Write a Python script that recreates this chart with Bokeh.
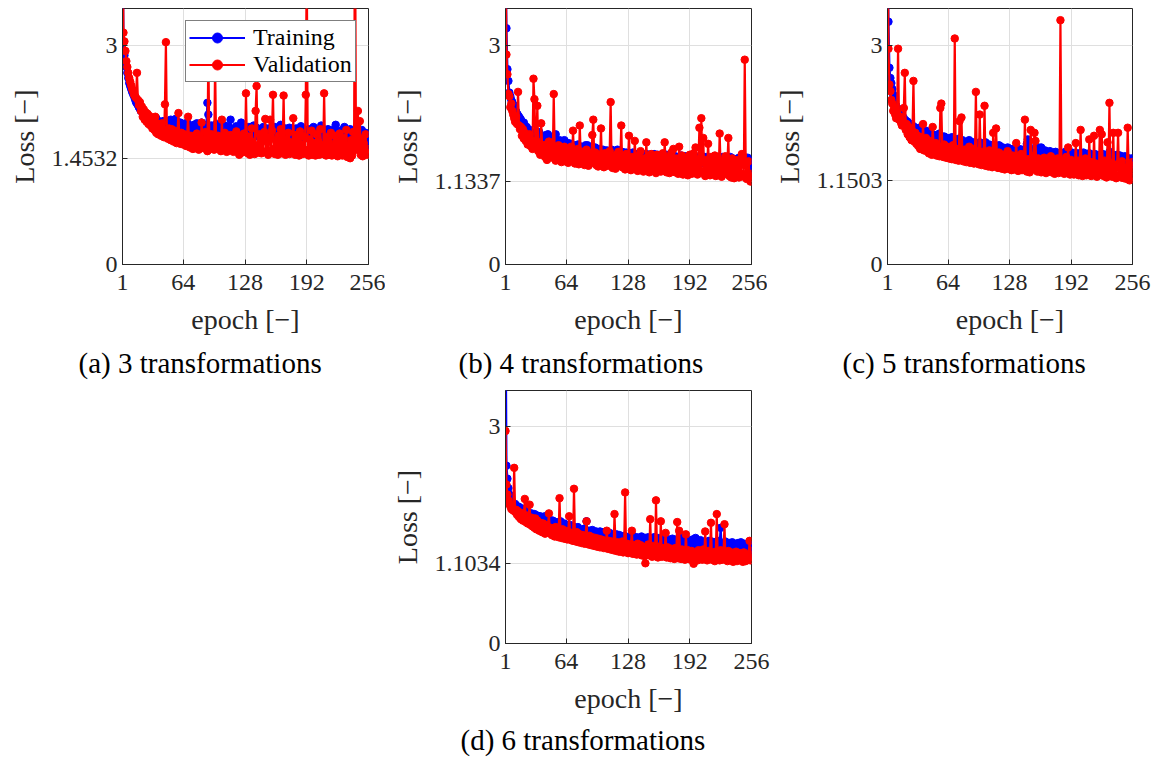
from bokeh.plotting import figure
from bokeh.models import Range1d, FixedTicker, Title, Legend, LegendItem, Spacer
from bokeh.layouts import row, column
from bokeh.embed import file_html
from bokeh.resources import INLINE

X_TICKS = [1, 64, 128, 192, 256]
Y_MAX = 3.5

TRAIN_A = [
    4.60, 3.05, 2.86, 2.76, 2.70, 2.62, 2.55, 2.48, 2.44, 2.40, 2.36, 2.33, 2.30, 2.26, 2.22, 2.20,
    2.18, 2.15, 2.13, 2.10, 2.12, 2.08, 2.06, 2.05, 2.07, 2.03, 2.02, 2.00, 2.01, 1.99, 1.98, 1.97,
    1.99, 1.94, 1.97, 2.00, 1.92, 1.96, 1.90, 1.95, 1.93, 1.88, 1.96, 1.91, 1.87, 1.94, 1.89, 1.95,
    1.86, 1.92, 1.98, 1.88, 1.84, 1.93, 1.87, 1.99, 1.85, 1.91, 1.83, 1.89, 1.94, 1.82, 1.88, 1.85,
    1.92, 1.83, 1.87, 1.94, 1.81, 1.86, 1.90, 1.80, 1.88, 1.84, 1.91, 1.79, 1.86, 1.93, 1.82, 1.87,
    1.80, 1.89, 1.94, 1.83, 1.78, 1.88, 1.84, 1.91, 2.21, 2.05, 1.85, 1.79, 1.90, 1.82, 1.77, 1.86,
    1.81, 1.92, 1.78, 1.85, 1.89, 1.80, 1.76, 1.87, 1.83, 1.79, 1.90, 1.77, 1.84, 1.88, 1.78, 1.82,
    1.98, 1.80, 1.76, 1.86, 1.81, 1.77, 1.89, 1.79, 1.75, 1.84, 1.80, 1.94, 1.77, 1.83, 1.87, 1.76,
    1.81, 1.85, 1.75, 1.88, 1.79, 1.74, 1.86, 1.80, 1.90, 1.76, 1.82, 1.87, 1.75, 1.79, 1.84, 1.77,
    1.83, 1.74, 1.88, 1.78, 1.84, 1.73, 1.81, 1.86, 1.76, 1.80, 1.74, 1.85, 1.79, 1.75, 1.88, 1.78,
    1.74, 1.82, 1.77, 1.85, 1.91, 1.76, 1.72, 1.83, 1.78, 1.86, 1.74, 1.80, 1.75, 1.87, 1.79, 1.73,
    1.84, 1.77, 1.81, 1.73, 1.86, 1.78, 1.74, 1.83, 1.79, 1.89, 1.75, 1.81, 1.72, 1.84, 1.77, 1.80,
    1.74, 1.85, 1.78, 1.72, 1.83, 1.76, 1.88, 1.80, 1.73, 1.82, 1.77, 1.71, 1.84, 1.78, 1.90, 1.74,
    1.79, 1.83, 1.72, 1.80, 1.76, 1.85, 1.73, 1.81, 1.77, 1.84, 1.71, 1.79, 1.83, 1.91, 1.76, 1.72,
    1.82, 1.75, 1.80, 1.71, 1.84, 1.77, 1.88, 1.74, 1.79, 1.83, 1.70, 1.78, 1.85, 1.73, 1.80, 1.76,
    1.71, 1.82, 1.77, 1.86, 1.73, 1.79, 1.70, 1.81, 1.84, 1.72, 1.78, 1.74, 1.80, 1.76, 1.70, 1.63,
]
VAL_A = [
    4.80, 3.17, 3.05, 2.92, 2.78, 2.70, 2.62, 2.55, 2.50, 2.45, 2.40, 2.37, 2.32, 2.30, 2.28, 2.62,
    2.25, 2.18, 2.22, 2.10, 2.16, 2.02, 2.12, 1.98, 2.08, 1.95, 2.06, 1.92, 2.03, 1.90, 2.00, 1.86,
    1.97, 1.84, 2.02, 1.80, 1.93, 1.78, 1.90, 1.87, 1.76, 1.93, 1.82, 1.74, 2.19, 3.04, 1.84, 1.72,
    1.86, 1.76, 1.70, 1.85, 1.74, 1.68, 1.83, 1.79, 1.66, 1.81, 2.07, 1.71, 1.65, 1.80, 1.73, 1.64,
    1.78, 1.69, 1.62, 1.77, 2.02, 1.67, 1.60, 1.76, 1.70, 1.58, 1.75, 1.66, 1.61, 1.79, 1.63, 1.57,
    1.73, 1.65, 1.94, 1.72, 1.59, 1.66, 1.81, 1.62, 1.55, 2.90, 1.69, 1.58, 1.78, 1.63, 1.72, 1.57,
    2.75, 1.70, 1.59, 1.76, 1.62, 1.69, 1.55, 1.98, 1.67, 1.58, 1.80, 1.61, 1.54, 1.73, 1.64, 1.56,
    1.77, 1.60, 1.69, 1.54, 1.74, 1.60, 1.82, 1.57, 1.68, 1.50, 1.64, 1.76, 1.53, 1.62, 1.79, 1.55,
    2.34, 1.63, 1.52, 1.75, 1.50, 1.69, 1.86, 1.56, 1.64, 1.51, 2.10, 2.44, 1.62, 1.53, 1.78, 1.66,
    1.52, 1.71, 1.54, 1.81, 1.99, 1.55, 1.68, 1.50, 1.74, 1.98, 1.56, 1.83, 2.32, 1.58, 1.51, 1.70,
    1.57, 1.50, 1.76, 1.54, 1.85, 1.52, 1.65, 2.31, 1.58, 1.50, 1.72, 1.55, 1.80, 1.51, 1.67, 1.59,
    1.53, 2.00, 1.62, 1.50, 1.77, 1.55, 1.69, 1.49, 1.82, 1.56, 1.64, 1.51, 1.75, 1.53, 2.32, 4.20,
    1.57, 1.49, 1.71, 1.55, 1.83, 1.50, 1.66, 1.56, 1.49, 1.78, 1.55, 1.68, 1.50, 1.85, 1.54, 1.63,
    1.51, 2.34, 1.58, 1.49, 1.74, 1.50, 1.67, 1.54, 1.80, 1.49, 1.62, 1.51, 1.76, 1.55, 1.69, 1.48,
    1.56, 1.79, 1.50, 1.66, 1.49, 1.73, 1.60, 1.50, 1.84, 1.47, 1.63, 1.52, 1.4532, 1.70, 1.49, 1.81,
    1.56, 5.00, 1.62, 1.70, 2.10, 1.57, 1.96, 1.50, 1.72, 1.48, 1.66, 1.54, 1.78, 1.50, 1.58, 1.52,
]

TRAIN_B = [
    4.20, 3.23, 2.67, 2.51, 2.35, 2.30, 2.25, 2.22, 2.18, 2.17, 2.12, 2.09, 2.06, 2.04, 2.02, 2.00,
    1.98, 1.95, 1.92, 1.94, 1.90, 1.85, 1.88, 1.83, 1.81, 1.84, 1.79, 1.80, 1.77, 1.78, 1.76, 1.75,
    1.79, 1.72, 1.76, 1.81, 1.70, 1.75, 1.68, 1.74, 1.71, 1.66, 1.77, 1.73, 1.78, 1.69, 1.65, 1.73,
    1.68, 1.62, 1.71, 1.66, 1.78, 1.64, 1.69, 1.61, 1.70, 1.63, 1.67, 1.59, 1.66, 1.70, 1.60, 1.64,
    1.58, 1.66, 1.61, 1.55, 1.65, 1.60, 1.63, 1.56, 1.62, 1.58, 1.53, 1.64, 1.59, 1.54, 1.61, 1.57,
    1.52, 1.60, 1.56, 1.63, 1.54, 1.63, 1.58, 1.51, 1.59, 1.55, 1.50, 1.57, 1.53, 1.60, 1.49, 1.56,
    1.52, 1.58, 1.48, 1.55, 1.51, 1.57, 1.47, 1.53, 1.50, 1.56, 1.46, 1.54, 1.49, 1.52, 1.57, 1.47,
    1.53, 1.48, 1.55, 1.46, 1.57, 1.50, 1.45, 1.52, 1.48, 1.54, 1.44, 1.51, 1.47, 1.53, 1.45, 1.50,
    1.46, 1.52, 1.44, 1.49, 1.53, 1.45, 1.50, 1.47, 1.43, 1.51, 1.46, 1.49, 1.44, 1.52, 1.47, 1.43,
    1.48, 1.45, 1.51, 1.42, 1.47, 1.50, 1.44, 1.48, 1.42, 1.46, 1.51, 1.43, 1.47, 1.45, 1.50, 1.41,
    1.46, 1.49, 1.43, 1.47, 1.41, 1.48, 1.45, 1.50, 1.42, 1.46, 1.40, 1.47, 1.44, 1.49, 1.41, 1.45,
    1.48, 1.42, 1.46, 1.40, 1.47, 1.44, 1.49, 1.41, 1.45, 1.43, 1.48, 1.40, 1.46, 1.42, 1.47, 1.44,
    1.40, 1.46, 1.42, 1.48, 1.39, 1.45, 1.41, 1.47, 1.43, 1.40, 1.46, 1.42, 1.48, 1.39, 1.44, 1.41,
    1.47, 1.40, 1.45, 1.42, 1.39, 1.46, 1.43, 1.40, 1.47, 1.44, 1.38, 1.45, 1.41, 1.47, 1.42, 1.39,
    1.45, 1.47, 1.40, 1.43, 1.38, 1.46, 1.41, 1.44, 1.39, 1.47, 1.42, 1.38, 1.45, 1.40, 1.43, 1.37,
    1.44, 1.40, 1.46, 1.38, 1.42, 1.45, 1.39, 1.43, 1.37, 1.44, 1.41, 1.46, 1.38, 1.42, 1.37, 1.30,
]
VAL_B = [
    4.50, 2.87, 2.60, 2.33, 2.30, 2.15, 2.20, 2.10, 2.05, 2.00, 1.95, 2.02, 1.92, 2.36, 1.90, 1.85,
    1.88, 1.76, 1.85, 1.72, 1.80, 1.69, 1.77, 1.64, 1.73, 1.78, 1.62, 1.70, 1.58, 2.54, 2.26, 1.64,
    1.69, 2.17, 1.55, 1.66, 1.50, 1.93, 1.63, 1.52, 1.61, 1.47, 1.64, 1.43, 1.56, 1.68, 1.49, 1.55,
    1.60, 1.46, 2.33, 1.54, 1.42, 1.59, 1.49, 1.63, 1.44, 1.58, 1.40, 1.55, 1.48, 1.61, 1.41, 1.52,
    1.56, 1.39, 1.53, 1.47, 1.61, 1.43, 1.83, 1.48, 1.38, 1.55, 1.44, 1.58, 1.37, 1.90, 1.49, 1.40,
    1.54, 1.42, 1.36, 1.49, 1.57, 1.41, 1.35, 1.52, 1.45, 1.39, 1.77, 1.98, 1.44, 1.53, 1.36, 1.46,
    1.34, 1.50, 1.42, 1.86, 1.37, 1.48, 1.33, 1.52, 1.41, 1.47, 1.35, 1.40, 1.55, 2.22, 1.38, 1.32,
    1.46, 1.39, 1.31, 1.50, 1.40, 1.54, 1.35, 1.44, 1.90, 1.33, 1.48, 1.37, 1.30, 1.51, 1.39, 1.45,
    1.76, 1.36, 1.29, 1.47, 1.39, 1.32, 1.69, 1.43, 1.34, 1.28, 1.49, 1.37, 1.55, 1.31, 1.42, 1.27,
    1.45, 1.35, 1.67, 1.30, 1.48, 1.26, 1.40, 1.51, 1.33, 1.28, 1.46, 1.35, 1.25, 1.50, 1.38, 1.29,
    1.43, 1.27, 1.36, 1.52, 1.30, 1.67, 1.41, 1.26, 1.47, 1.34, 1.25, 1.44, 1.53, 1.31, 1.58, 1.37,
    1.26, 1.45, 1.33, 1.24, 1.61, 1.40, 1.28, 1.49, 1.23, 1.38, 1.46, 1.27, 1.42, 1.22, 1.35, 1.50,
    1.30, 1.24, 1.41, 1.52, 1.27, 1.60, 1.36, 1.23, 1.44, 1.87, 1.29, 2.00, 1.39, 1.73, 1.25, 1.21,
    1.43, 1.28, 1.65, 1.36, 1.22, 1.47, 1.26, 1.40, 1.31, 1.49, 1.21, 1.38, 1.44, 1.25, 1.79, 1.33,
    1.20, 1.42, 1.30, 1.24, 1.48, 1.27, 1.37, 1.73, 1.21, 1.35, 1.19, 1.45, 1.28, 1.18, 1.40, 1.26,
    1.22, 1.43, 1.19, 1.36, 1.24, 1.51, 1.49, 1.20, 2.80, 1.39, 1.17, 1.25, 1.41, 1.21, 1.1337, 1.24,
]

TRAIN_C = [
    4.50, 3.32, 2.69, 2.55, 2.48, 2.40, 2.32, 2.24, 2.20, 2.17, 2.14, 2.12, 2.10, 2.08, 2.06, 2.04,
    2.02, 2.00, 1.94, 1.97, 1.93, 1.95, 1.91, 1.89, 1.92, 1.88, 1.86, 1.89, 1.85, 1.87, 1.84, 1.86,
    1.80, 1.87, 1.78, 1.84, 1.76, 1.82, 1.79, 1.74, 1.83, 1.77, 1.73, 1.81, 1.80, 1.72, 1.78, 1.75,
    1.70, 1.77, 1.73, 1.68, 1.76, 1.71, 1.79, 1.67, 1.74, 1.69, 1.65, 1.75, 1.70, 1.66, 1.73, 1.68,
    1.64, 1.71, 1.67, 1.74, 1.63, 1.71, 1.66, 1.62, 1.69, 1.65, 1.72, 1.61, 1.67, 1.64, 1.70, 1.60,
    1.66, 1.63, 1.59, 1.68, 1.62, 1.70, 1.58, 1.65, 1.61, 1.67, 1.57, 1.63, 1.60, 1.66, 1.58, 1.64,
    1.67, 1.60, 1.56, 1.65, 1.61, 1.58, 1.67, 1.55, 1.62, 1.59, 1.64, 1.56, 1.60, 1.63, 1.54, 1.61,
    1.57, 1.62, 1.55, 1.59, 1.63, 1.62, 1.53, 1.58, 1.60, 1.54, 1.59, 1.56, 1.52, 1.60, 1.57, 1.53,
    1.58, 1.55, 1.51, 1.57, 1.54, 1.59, 1.50, 1.56, 1.53, 1.58, 1.51, 1.55, 1.57, 1.50, 1.54, 1.52,
    1.58, 1.65, 1.71, 1.62, 1.55, 1.50, 1.56, 1.52, 1.49, 1.55, 1.53, 1.48, 1.54, 1.60, 1.51, 1.49,
    1.60, 1.54, 1.48, 1.52, 1.56, 1.49, 1.53, 1.47, 1.51, 1.55, 1.48, 1.52, 1.46, 1.53, 1.50, 1.54,
    1.47, 1.52, 1.49, 1.45, 1.53, 1.50, 1.46, 1.51, 1.48, 1.54, 1.45, 1.50, 1.47, 1.52, 1.44, 1.49,
    1.53, 1.46, 1.50, 1.44, 1.51, 1.48, 1.52, 1.45, 1.49, 1.47, 1.43, 1.50, 1.53, 1.46, 1.44, 1.51,
    1.45, 1.49, 1.52, 1.44, 1.47, 1.50, 1.43, 1.48, 1.51, 1.45, 1.42, 1.49, 1.46, 1.50, 1.44, 1.47,
    1.51, 1.43, 1.48, 1.45, 1.42, 1.49, 1.46, 1.54, 1.44, 1.47, 1.50, 1.43, 1.41, 1.48, 1.45, 1.50,
    1.42, 1.46, 1.49, 1.41, 1.47, 1.44, 1.40, 1.48, 1.43, 1.46, 1.41, 1.45, 1.42, 1.37, 1.45, 1.41,
]
VAL_C = [
    4.80, 2.95, 2.46, 2.37, 2.25, 2.20, 2.10, 2.15, 2.05, 2.00, 2.08, 2.95, 1.98, 2.02, 1.94, 1.90,
    1.96, 2.14, 2.62, 1.84, 1.92, 1.78, 1.88, 1.74, 1.86, 1.70, 1.82, 2.51, 1.68, 1.80, 1.65, 1.76,
    1.62, 1.75, 1.58, 1.72, 1.61, 1.92, 1.56, 1.70, 1.73, 1.55, 1.66, 1.52, 1.69, 1.57, 1.50, 1.88,
    1.64, 1.51, 1.66, 1.49, 1.62, 1.55, 1.48, 2.14, 2.20, 1.59, 1.47, 1.64, 1.53, 1.46, 1.61, 1.50,
    1.45, 1.60, 1.52, 1.44, 1.63, 1.49, 3.09, 1.43, 1.58, 1.50, 1.42, 1.96, 1.56, 2.01, 1.46, 1.41,
    1.57, 1.45, 1.40, 1.55, 1.48, 1.61, 1.39, 1.52, 1.44, 1.58, 1.38, 1.50, 2.36, 1.42, 1.55, 1.37,
    2.05, 1.48, 1.36, 1.54, 1.43, 2.17, 1.35, 1.51, 1.41, 1.34, 1.56, 1.40, 1.49, 1.33, 1.80, 1.45,
    1.36, 1.86, 1.47, 1.32, 1.53, 1.38, 1.45, 1.31, 1.50, 1.39, 1.30, 1.48, 1.35, 1.55, 1.31, 1.43,
    1.34, 1.29, 1.49, 1.40, 1.30, 1.47, 1.66, 1.35, 1.28, 1.46, 1.33, 1.51, 1.29, 1.42, 1.36, 1.98,
    1.38, 1.27, 1.44, 1.33, 1.26, 1.84, 1.41, 1.30, 1.48, 1.80, 1.69, 1.35, 1.27, 1.45, 1.32, 1.40,
    1.26, 1.39, 1.29, 1.46, 1.33, 1.25, 1.43, 1.28, 1.37, 1.31, 1.48, 1.26, 1.40, 1.32, 1.24, 1.42,
    1.30, 1.45, 1.25, 1.36, 3.34, 1.41, 1.27, 1.38, 1.24, 1.33, 1.47, 1.26, 1.60, 1.35, 1.23, 1.43,
    1.29, 1.40, 1.23, 1.34, 1.66, 1.28, 1.42, 1.22, 1.37, 1.84, 1.30, 1.21, 1.39, 1.27, 1.45, 1.22,
    1.35, 1.24, 1.71, 1.31, 1.21, 1.40, 1.28, 1.76, 1.22, 1.38, 1.20, 1.33, 1.26, 1.84, 1.23, 1.78,
    1.36, 1.21, 1.42, 1.27, 1.19, 1.67, 1.34, 2.21, 1.25, 1.39, 1.20, 1.80, 1.23, 1.32, 1.18, 1.37,
    1.80, 1.22, 1.35, 1.19, 1.41, 1.26, 1.18, 1.33, 1.21, 1.17, 1.87, 1.28, 1.1503, 1.36, 1.20, 1.40,
]

TRAIN_D = [
    4.80, 2.46, 2.28, 2.15, 2.06, 2.00, 1.97, 1.95, 1.92, 1.90, 1.93, 1.88, 1.90, 1.86, 1.89, 1.85,
    1.87, 1.83, 1.86, 1.80, 1.84, 1.78, 1.83, 1.76, 1.81, 1.79, 1.74, 1.80, 1.77, 1.72, 1.79, 1.75,
    1.71, 1.77, 1.73, 1.69, 1.76, 1.72, 1.68, 1.75, 1.70, 1.76, 1.66, 1.72, 1.69, 1.65, 1.71, 1.67,
    1.63, 1.70, 1.66, 1.62, 1.68, 1.64, 1.60, 1.67, 1.63, 1.69, 1.59, 1.65, 1.61, 1.66, 1.58, 1.63,
    1.60, 1.56, 1.58, 1.64, 1.59, 1.55, 1.62, 1.57, 1.53, 1.60, 1.56, 1.61, 1.52, 1.58, 1.55, 1.50,
    1.57, 1.53, 1.59, 1.51, 1.69, 1.55, 1.50, 1.56, 1.52, 1.51, 1.57, 1.49, 1.54, 1.50, 1.55, 1.48,
    1.53, 1.49, 1.55, 1.47, 1.51, 1.54, 1.46, 1.52, 1.48, 1.44, 1.51, 1.47, 1.53, 1.45, 1.50, 1.46,
    1.42, 1.49, 1.45, 1.51, 1.43, 1.47, 1.50, 1.44, 1.48, 1.41, 1.46, 1.49, 1.43, 1.47, 1.42, 1.45,
    1.48, 1.41, 1.46, 1.43, 1.49, 1.40, 1.45, 1.42, 1.47, 1.44, 1.39, 1.46, 1.42, 1.48, 1.40, 1.44,
    1.41, 1.46, 1.39, 1.43, 1.47, 1.40, 1.44, 1.38, 1.45, 1.41, 1.47, 1.39, 1.43, 1.40, 1.46, 1.38,
    1.43, 1.40, 1.45, 1.37, 1.42, 1.46, 1.39, 1.43, 1.38, 1.44, 1.40, 1.36, 1.42, 1.45, 1.38, 1.41,
    1.37, 1.43, 1.39, 1.45, 1.36, 1.41, 1.49, 1.38, 1.42, 1.36, 1.44, 1.39, 1.37, 1.43, 1.40, 1.35,
    1.41, 1.38, 1.44, 1.36, 1.40, 1.46, 1.37, 1.42, 1.35, 1.39, 1.43, 1.36, 1.40, 1.34, 1.41, 1.38,
    1.35, 1.40, 1.37, 1.42, 1.34, 1.38, 1.41, 1.35, 1.39, 1.33, 1.40, 1.37, 1.42, 1.34, 1.38, 1.60,
    1.36, 1.33, 1.39, 1.35, 1.41, 1.34, 1.37, 1.32, 1.39, 1.36, 1.33, 1.40, 1.35, 1.38, 1.32, 1.37,
    1.34, 1.39, 1.32, 1.36, 1.40, 1.33, 1.37, 1.31, 1.38, 1.35, 1.32, 1.37, 1.34, 1.30, 1.36, 1.26,
]
VAL_D = [
    2.94, 2.20, 2.06, 1.98, 1.93, 1.90, 1.86, 1.88, 1.84, 2.43, 1.82, 1.85, 1.78, 1.83, 1.75, 1.81,
    1.72, 1.80, 1.70, 1.78, 2.00, 1.68, 1.77, 1.66, 1.75, 1.92, 1.64, 1.74, 1.62, 1.72, 1.60, 1.73,
    1.58, 1.70, 1.62, 1.56, 1.67, 1.59, 1.54, 1.66, 1.57, 1.52, 1.64, 1.55, 1.61, 1.80, 1.53, 1.60,
    1.50, 1.59, 1.54, 1.48, 1.61, 1.51, 1.57, 1.47, 2.01, 1.55, 1.46, 1.58, 1.50, 1.45, 1.56, 1.49,
    1.44, 1.55, 1.76, 1.47, 1.43, 1.53, 1.42, 2.14, 1.49, 1.41, 1.54, 1.45, 1.40, 1.51, 1.44, 1.39,
    1.50, 1.43, 1.38, 1.48, 1.69, 1.42, 1.37, 1.49, 1.40, 1.36, 1.47, 1.41, 1.35, 1.46, 1.39, 1.34,
    1.45, 1.37, 1.33, 1.44, 1.38, 1.43, 1.32, 1.40, 1.36, 1.56, 1.31, 1.42, 1.35, 1.30, 1.41, 1.34,
    1.29, 1.79, 1.38, 1.28, 1.40, 1.33, 1.27, 1.39, 1.32, 1.41, 1.26, 1.35, 2.09, 1.30, 1.38, 1.25,
    1.34, 1.29, 1.37, 1.56, 1.24, 1.36, 1.28, 1.33, 1.23, 1.38, 1.27, 1.31, 1.36, 1.22, 1.34, 1.28,
    1.21, 1.11, 1.33, 1.26, 1.37, 1.22, 1.72, 1.29, 1.20, 1.35, 1.27, 1.21, 1.98, 1.31, 1.19, 1.34,
    1.25, 1.69, 1.20, 1.32, 1.24, 1.29, 1.53, 1.19, 1.33, 1.22, 1.28, 1.18, 1.31, 1.23, 1.27, 1.17,
    1.32, 1.21, 1.68, 1.18, 1.56, 1.26, 1.17, 1.30, 1.22, 1.27, 1.16, 1.51, 1.20, 1.29, 1.17, 1.25,
    1.16, 1.28, 1.20, 1.1034, 1.26, 1.19, 1.24, 1.15, 1.29, 1.21, 1.17, 1.27, 1.16, 1.30, 1.19, 1.55,
    1.22, 1.15, 1.28, 1.18, 1.24, 1.67, 1.16, 1.26, 1.20, 1.14, 1.27, 1.79, 1.18, 1.23, 1.15, 1.29,
    1.21, 1.16, 1.25, 1.65, 1.17, 1.23, 1.14, 1.28, 1.19, 1.15, 1.26, 1.18, 1.13, 1.24, 1.16, 1.27,
    1.14, 1.22, 1.17, 1.25, 1.15, 1.20, 1.13, 1.26, 1.18, 1.14, 1.23, 1.16, 1.19, 1.42, 1.15, 1.28,
]

MIN_A, MIN_B, MIN_C, MIN_D = 1.4532, 1.1337, 1.1503, 1.1034
MIN_LABELS = {1.4532: "1.4532", 1.1337: "1.1337", 1.1503: "1.1503", 1.1034: "1.1034"}
CAPTIONS = ["(a) 3 transformations", "(b) 4 transformations",
            "(c) 5 transformations", "(d) 6 transformations"]
SERIES_NAMES = ["Training", "Validation"]

SERIF = "Liberation Serif"
AX_COLOR = "#262626"
GRID_COLOR = "#dfdfdf"
BLUE = "#0000ff"
RED = "#ff0000"


def make_panel(train, val, ymin, caption, height, top, frame_h, left, frame_w, right,
               cap_offset, cap_standoff, legend=False):
    p = figure(width=left + frame_w + right, height=height,
               x_range=Range1d(1, 256), y_range=Range1d(0, Y_MAX),
               output_backend="svg", toolbar_location=None,
               min_border_left=left, min_border_right=right,
               min_border_top=top, min_border_bottom=height - frame_h - top)
    p.outline_line_color = AX_COLOR
    p.outline_line_width = 1
    p.background_fill_color = "white"

    p.xaxis.ticker = FixedTicker(ticks=X_TICKS)
    p.yaxis.ticker = FixedTicker(ticks=[0, ymin, 3])
    p.yaxis.major_label_overrides = {0: "0", ymin: MIN_LABELS[ymin], 3: "3"}
    for ax in (p.xaxis[0], p.yaxis[0]):
        ax.major_tick_in = 5
        ax.major_tick_out = 0
        ax.minor_tick_line_color = None
        ax.axis_line_color = AX_COLOR
        ax.major_tick_line_color = AX_COLOR
        ax.major_label_text_font = SERIF
        ax.major_label_text_font_size = "24px"
        ax.major_label_text_color = AX_COLOR
        ax.axis_label_text_font = SERIF
        ax.axis_label_text_font_size = "28px"
        ax.axis_label_text_font_style = "normal"
        ax.axis_label_text_color = AX_COLOR
    p.xaxis.axis_label = "epoch [\u2212]"
    p.yaxis.axis_label = "Loss [\u2212]"
    p.xaxis.major_label_standoff = 10
    p.yaxis.major_label_standoff = 5
    p.xaxis.axis_label_standoff = 11
    p.yaxis.axis_label_standoff = 9

    p.xgrid.grid_line_color = GRID_COLOR
    p.ygrid.grid_line_color = GRID_COLOR

    xs_t = list(range(1, len(train) + 1))
    xs_v = list(range(1, len(val) + 1))
    lt = p.line(xs_t, train, line_color=BLUE, line_width=2.2)
    st = p.scatter(xs_t, train, size=7.5, fill_color=BLUE, line_color=BLUE)
    lv = p.line(xs_v, val, line_color=RED, line_width=2.2)
    sv = p.scatter(xs_v, val, size=7.5, fill_color=RED, line_color=RED)

    if legend:
        leg = Legend(items=[LegendItem(label=SERIES_NAMES[0], renderers=[lt, st]),
                            LegendItem(label=SERIES_NAMES[1], renderers=[lv, sv])],
                     location=(63, 182))
        leg.border_line_color = "black"
        leg.border_line_width = 1
        leg.background_fill_color = "white"
        leg.background_fill_alpha = 1.0
        leg.glyph_width = 56
        leg.glyph_height = 25
        leg.label_height = 25
        leg.label_standoff = 8
        leg.padding = 3
        leg.spacing = 0
        leg.margin = 0
        leg.label_text_font = SERIF
        leg.label_text_font_size = "24px"
        leg.label_text_color = "black"
        p.add_layout(leg)

    cap = Title(text=caption, align="left", offset=cap_offset,
                text_font=SERIF, text_font_size="29px",
                text_font_style="normal", text_color="black", standoff=cap_standoff)
    p.add_layout(cap, "below")
    return p


fa = make_panel(TRAIN_A, VAL_A, MIN_A, CAPTIONS[0], 390, 8, 256, 122, 246, 17, -44, 15, legend=True)
fb = make_panel(TRAIN_B, VAL_B, MIN_B, CAPTIONS[1], 390, 8, 256, 120, 246, 16, -47, 15)
fc = make_panel(TRAIN_C, VAL_C, MIN_C, CAPTIONS[2], 390, 8, 256, 120, 245, 20, -45, 15)
fd = make_panel(TRAIN_D, VAL_D, MIN_D, CAPTIONS[3], 370, 0, 255, 120, 246, 20, -45, 10)

layout = column(row(fa, fb, fc), row(Spacer(width=385, height=370), fd))

open("out.html", "w").write(file_html(layout, INLINE))
